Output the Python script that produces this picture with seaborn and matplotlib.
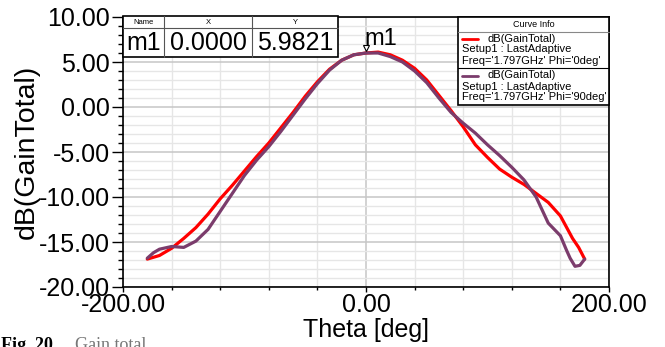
import matplotlib
matplotlib.use("Agg")
import matplotlib.pyplot as plt
import numpy as np
import pandas as pd
import seaborn as sns
from matplotlib.ticker import FixedLocator, MultipleLocator, FormatStrFormatter
from matplotlib.transforms import offset_copy
from matplotlib.patches import Rectangle
from matplotlib.lines import Line2D

# Gain pattern cuts at 1.797 GHz (Theta in degrees, gain in dB)
theta_phi0 = [-180, -170, -160, -150, -140, -130, -120, -110, -100, -90, -80, -70,
              -60, -50, -40, -30, -20, -10, 0, 10, 20, 30, 40, 50, 60, 70, 80, 90,
              100, 110, 120, 130, 140, 150, 160, 170, 175, 180]
gain_phi0 = [-16.9, -16.5, -15.7, -14.6, -13.4, -11.9, -10.2, -8.7, -7.1, -5.5, -4.0, -2.3,
             -0.6, 1.2, 2.8, 4.2, 5.2, 5.8, 6.0, 6.1, 5.8, 5.2, 4.3, 3.0, 1.3, -0.4, -2.2, -4.2,
             -5.6, -6.9, -7.8, -8.6, -9.6, -10.6, -12.1, -14.6, -15.6, -16.9]

theta_phi90 = [-180, -175, -170, -160, -150, -140, -130, -120, -110, -100, -90, -80, -70,
               -60, -50, -40, -30, -20, -10, 0, 10, 20, 30, 40, 50, 60, 70, 80, 90,
               100, 110, 120, 130, 140, 150, 160, 165, 168, 172, 176, 180]
gain_phi90 = [-16.8, -16.2, -15.8, -15.5, -15.6, -14.9, -13.6, -11.6, -9.6, -7.6, -5.9, -4.4, -2.7,
              -0.9, 0.9, 2.6, 4.1, 5.2, 5.8, 6.0, 6.0, 5.6, 5.0, 4.0, 2.7, 1.0, -0.6, -1.8, -2.9,
              -4.2, -5.4, -6.7, -8.1, -10.0, -12.9, -14.3, -15.9, -16.8, -17.7, -17.6, -16.9]

curve_names = ["Phi='0deg'", "Phi='90deg'"]
curve_colors = ["#ff0000", "#7b3c6c"]
freq_text = "Freq='1.797GHz'"
setup_text = "Setup1 : LastAdaptive"
quantity = "dB(GainTotal)"

marker_name = "m1"
marker_x = 0.0
marker_y = 5.9821

x_ticks = [-200, 0, 200]
y_lim = (-20, 10)

df = pd.concat([
    pd.DataFrame({"Theta": theta_phi0, "Gain": gain_phi0, "Curve": curve_names[0]}),
    pd.DataFrame({"Theta": theta_phi90, "Gain": gain_phi90, "Curve": curve_names[1]}),
], ignore_index=True)

sns.set_theme(style="white")
plt.rcParams["font.family"] = ["Liberation Sans", "DejaVu Sans"]

W, H = 665, 347
fig = plt.figure(figsize=(W / 100, H / 100), dpi=100)
L, R, T, B = 123, 609, 17, 287
ax = fig.add_axes([L / W, 1 - B / H, (R - L) / W, (B - T) / H])

sns.lineplot(data=df, x="Theta", y="Gain", hue="Curve", hue_order=curve_names,
             palette=curve_colors, sort=False, estimator=None, lw=2.3,
             legend=False, ax=ax, zorder=3)

ax.set_xlim(-200, 200)
ax.set_ylim(*y_lim)
ax.xaxis.set_major_locator(FixedLocator(x_ticks))
ax.xaxis.set_minor_locator(MultipleLocator(40))
ax.yaxis.set_major_locator(MultipleLocator(5))
ax.yaxis.set_minor_locator(MultipleLocator(1))
ax.xaxis.set_major_formatter(FormatStrFormatter("%.2f"))
ax.yaxis.set_major_formatter(FormatStrFormatter("%.2f"))

ax.grid(which="major", color="#c6c6c6", lw=1.1, zorder=0)
ax.grid(which="minor", color="#e6e6e6", lw=1.0, zorder=0)
ax.set_axisbelow(True)

for s in ax.spines.values():
    s.set_color("black")
    s.set_linewidth(1.2)

ax.tick_params(axis="y", which="major", direction="out", length=8, width=1,
               color="black", labelsize=18, pad=1.5, left=True)
ax.tick_params(axis="y", which="minor", direction="out", length=3.5, width=1,
               color="black", left=True)
ax.tick_params(axis="x", which="major", direction="out", length=3.5, width=1,
               color="black", labelsize=18, pad=1, bottom=True)
ax.tick_params(axis="x", which="minor", direction="out", length=2.5, width=1,
               color="black", bottom=True)
for lab in ax.get_xticklabels() + ax.get_yticklabels():
    lab.set_color("black")

ax.set_xlabel("Theta [deg]", fontsize=18, color="black", va="center")
ax.xaxis.set_label_coords(0.5, (B - 330) / (B - T))
ax.set_ylabel(quantity, fontsize=20.5, color="black", va="center")
ax.yaxis.set_label_coords((27 - L) / (R - L), 0.5)


def ax_pt(px, py):
    return ((px - L) / (R - L), (B - py) / (B - T))


def box(x0, y0, x1, y1, lw=1.0, ec="black"):
    ax0, ay1 = ax_pt(x0, y1)
    ax1, ay0 = ax_pt(x1, y0)
    ax.add_patch(Rectangle((ax0, ay1), ax1 - ax0, ay0 - ay1, transform=ax.transAxes,
                           facecolor="white", edgecolor=ec, lw=lw, zorder=6, clip_on=False))


def hline(x0, x1, y, color="black", lw=0.8):
    a0, ay = ax_pt(x0, y)
    a1, _ = ax_pt(x1, y)
    ax.add_line(Line2D([a0, a1], [ay, ay], transform=ax.transAxes, color=color,
                       lw=lw, zorder=7, clip_on=False))


def vline(x, y0, y1, color="black", lw=0.8):
    axx, a0 = ax_pt(x, y0)
    _, a1 = ax_pt(x, y1)
    ax.add_line(Line2D([axx, axx], [a0, a1], transform=ax.transAxes, color=color,
                       lw=lw, zorder=7, clip_on=False))


def put(px, py, s, **kw):
    axx, ayy = ax_pt(px, py)
    ax.text(axx, ayy, s, transform=ax.transAxes, zorder=8, color="black", **kw)


# Marker readout table
box(123, 16, 338, 57, lw=1.2)
hline(123, 338, 28, color="#555555")
vline(164, 16, 57, color="#555555")
vline(252, 16, 57, color="#555555")
put(143.5, 22.5, "Name", fontsize=5.5, ha="center", va="center")
put(208, 22.5, "X", fontsize=5.5, ha="center", va="center")
put(295, 22.5, "Y", fontsize=5.5, ha="center", va="center")
put(143.5, 43.5, marker_name, fontsize=18, ha="center", va="center")
put(208, 43.5, f"{marker_x:.4f}", fontsize=18, ha="center", va="center")
put(295, 43.5, f"{marker_y:.4f}", fontsize=18, ha="center", va="center")

# Marker on the curve peak
mk_tr = offset_copy(ax.transData, fig=fig, y=3.5, units="points")
ax.plot([marker_x], [marker_y], marker="v", ms=4.5, mfc="white", mec="black",
        mew=0.8, transform=mk_tr, zorder=9, clip_on=False)
ax.annotate(marker_name, xy=(marker_x, marker_y), xytext=(-1, 6),
            textcoords="offset points", ha="left", va="baseline",
            fontsize=17, color="black", zorder=9)

# Curve info box
box(458, 17, 609, 105, lw=1.2)
hline(458, 609, 32, color="#888888")
hline(458, 609, 68, color="black")
put(533.5, 24.5, "Curve Info", fontsize=6.5, ha="center", va="center")
for i, (name, col) in enumerate(zip(curve_names, curve_colors)):
    dy = i * 37
    a0, ay = ax_pt(462, 38.5 + dy)
    a1, _ = ax_pt(478, 38.5 + dy)
    ax.add_line(Line2D([a0, a1], [ay, ay], transform=ax.transAxes, color=col,
                       lw=2.0, zorder=8, clip_on=False))
    put(487, 38.5 + dy, quantity, fontsize=8, ha="left", va="center")
    put(462, 49.5 + dy, setup_text, fontsize=8, ha="left", va="center")
    put(462, 60.5 + dy, f"{freq_text} {name}", fontsize=8, ha="left", va="center")

# Figure caption
fig.text(0.002, 1 - 337 / H, "Fig. 20.", fontsize=13, fontweight="bold",
         family=["Liberation Serif", "DejaVu Serif"], va="top", ha="left", color="black")
fig.text(75 / W, 1 - 337 / H, "Gain total", fontsize=13,
         family=["Liberation Serif", "DejaVu Serif"], va="top", ha="left", color="#777777")

fig.savefig("out.png", dpi=100, facecolor="white")
